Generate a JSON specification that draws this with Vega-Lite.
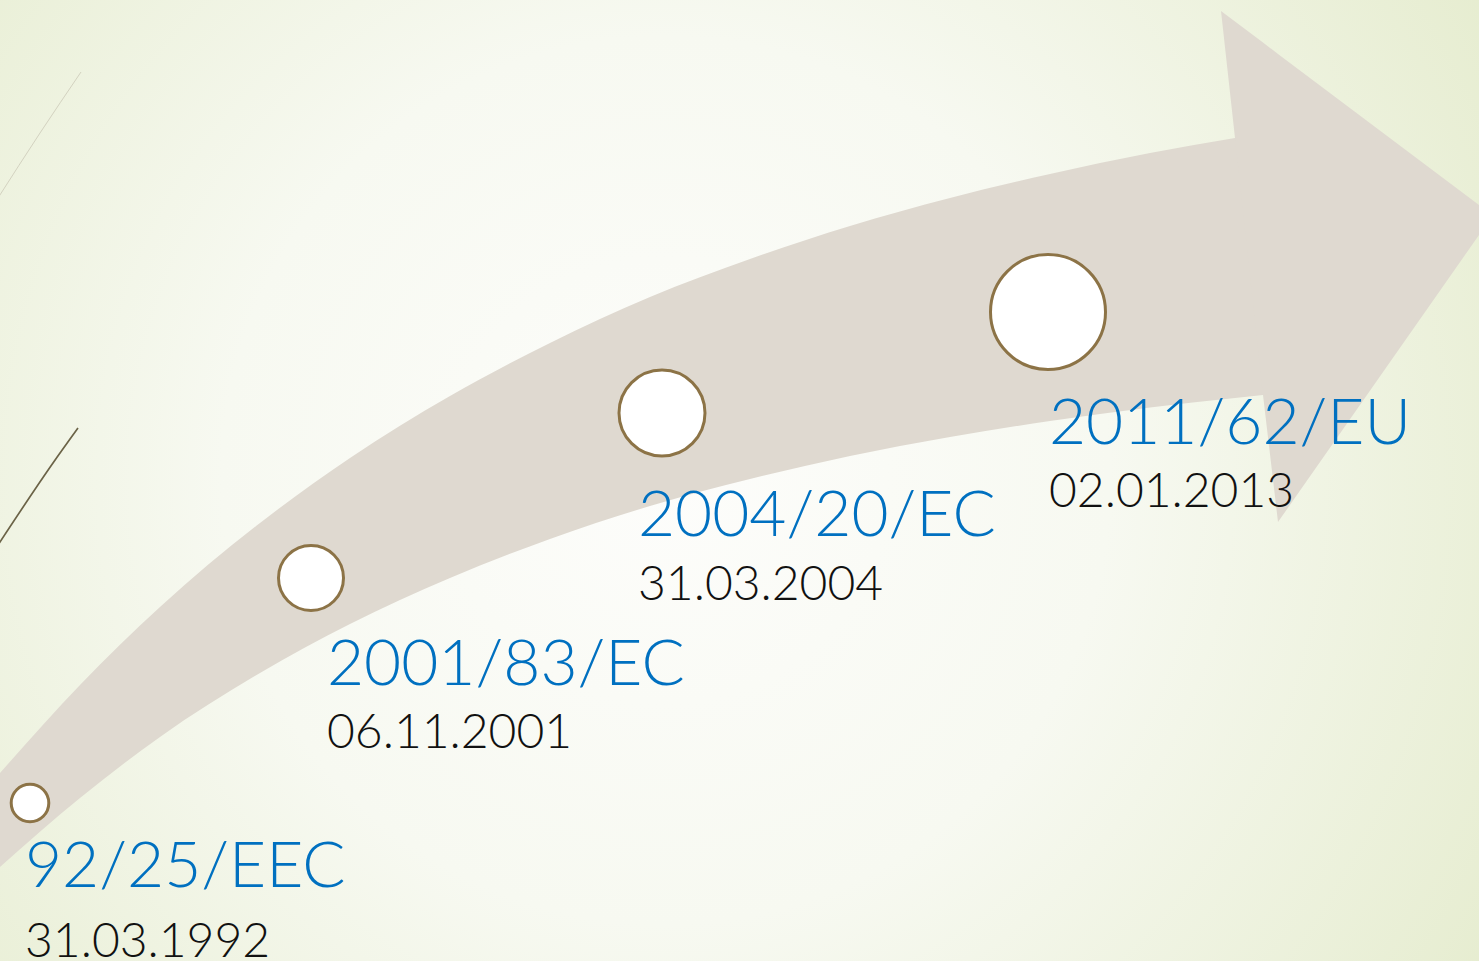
{
  "$schema": "https://vega.github.io/schema/vega-lite/v6.json",
  "width": 1479,
  "height": 961,
  "autosize": {"type": "none"},
  "padding": 0,
  "background": "#eef3e2",
  "config": {"view": {"stroke": null}},
  "datasets": {
    "bg": [{"x0": 0, "x1": 1479, "y0": 0, "y1": 961}],
    "body": [
      {"x": 0, "top": 773, "bottom": 867},
      {"x": 80, "top": 685, "bottom": 798},
      {"x": 160, "top": 607, "bottom": 737},
      {"x": 260, "top": 523, "bottom": 673},
      {"x": 350, "top": 458, "bottom": 624},
      {"x": 450, "top": 396, "bottom": 578},
      {"x": 550, "top": 343, "bottom": 539},
      {"x": 650, "top": 297, "bottom": 506},
      {"x": 750, "top": 259, "bottom": 479},
      {"x": 850, "top": 226, "bottom": 456},
      {"x": 950, "top": 198, "bottom": 437},
      {"x": 1050, "top": 174, "bottom": 421},
      {"x": 1150, "top": 153, "bottom": 407.5},
      {"x": 1235, "top": 138, "bottom": 398},
      {"x": 1263, "top": 133.5, "bottom": 395}
    ],
    "head": [
      {"x": 1221, "top": 11, "bottom": 11},
      {"x": 1235, "top": 21.5, "bottom": 138},
      {"x": 1263, "top": 42.6, "bottom": 395},
      {"x": 1278, "top": 53.9, "bottom": 522},
      {"x": 1479, "top": 205, "bottom": 235}
    ],
    "deco": [
      {"line": "faint", "x": 81, "y": 72},
      {"line": "faint", "x": 40, "y": 133},
      {"line": "faint", "x": -2, "y": 198},
      {"line": "dark", "x": 78, "y": 428},
      {"line": "dark", "x": 53, "y": 463},
      {"line": "dark", "x": -2, "y": 545}
    ],
    "events": [
      {"directive": "92/25/EEC", "date": "31.03.1992", "cx": 30, "cy": 803, "lx": 25, "ly": 887, "dy": 957},
      {"directive": "2001/83/EC", "date": "06.11.2001", "cx": 311, "cy": 578, "lx": 327, "ly": 685, "dy": 748},
      {"directive": "2004/20/EC", "date": "31.03.2004", "cx": 662, "cy": 413, "lx": 638, "ly": 536, "dy": 600},
      {"directive": "2011/62/EU", "date": "02.01.2013", "cx": 1048, "cy": 312, "lx": 1049, "ly": 444, "dy": 507}
    ]
  },
  "layer": [
    {
      "data": {"name": "bg"},
      "mark": {
        "type": "rect",
        "color": {
          "gradient": "radial",
          "x1": 0.45, "y1": 0.5, "r1": 0,
          "x2": 0.45, "y2": 0.5, "r2": 0.75,
          "stops": [
            {"offset": 0, "color": "#fdfdfb"},
            {"offset": 0.4, "color": "#f7f9f1"},
            {"offset": 1, "color": "#e1e9c6"}
          ]
        }
      },
      "encoding": {
        "x": {"field": "x0", "type": "quantitative", "scale": {"domain": [0, 1479], "nice": false, "zero": false}, "axis": null},
        "x2": {"field": "x1"},
        "y": {"field": "y0", "type": "quantitative", "scale": {"domain": [0, 961], "nice": false, "zero": false, "reverse": true}, "axis": null},
        "y2": {"field": "y1"}
      }
    },
    {
      "data": {"name": "deco"},
      "mark": {"type": "line", "interpolate": "monotone", "clip": true},
      "encoding": {
        "x": {"field": "x", "type": "quantitative", "scale": {"domain": [0, 1479], "nice": false, "zero": false}, "axis": null},
        "y": {"field": "y", "type": "quantitative", "scale": {"domain": [0, 961], "nice": false, "zero": false, "reverse": true}, "axis": null},
        "detail": {"field": "line"},
        "color": {"field": "line", "type": "nominal", "scale": {"domain": ["faint", "dark"], "range": ["#d3d2c0", "#6b6347"]}, "legend": null},
        "strokeWidth": {"field": "line", "type": "nominal", "scale": {"type": "ordinal", "domain": ["faint", "dark"], "range": [1, 1.7]}, "legend": null}
      }
    },
    {
      "data": {"name": "body"},
      "mark": {"type": "area", "color": "#dfd9d0", "interpolate": "monotone", "orient": "vertical"},
      "encoding": {
        "x": {"field": "x", "type": "quantitative", "scale": {"domain": [0, 1479], "nice": false, "zero": false}, "axis": null},
        "y": {"field": "top", "type": "quantitative", "stack": null, "scale": {"domain": [0, 961], "nice": false, "zero": false, "reverse": true}, "axis": null},
        "y2": {"field": "bottom"}
      }
    },
    {
      "data": {"name": "head"},
      "mark": {"type": "area", "color": "#dfd9d0", "interpolate": "linear", "orient": "vertical"},
      "encoding": {
        "x": {"field": "x", "type": "quantitative", "scale": {"domain": [0, 1479], "nice": false, "zero": false}, "axis": null},
        "y": {"field": "top", "type": "quantitative", "stack": null, "scale": {"domain": [0, 961], "nice": false, "zero": false, "reverse": true}, "axis": null},
        "y2": {"field": "bottom"}
      }
    },
    {
      "data": {"name": "events"},
      "mark": {"type": "point", "shape": "circle", "filled": true, "fill": "#ffffff", "stroke": "#8c7346", "strokeWidth": 3, "opacity": 1},
      "encoding": {
        "x": {"field": "cx", "type": "quantitative", "scale": {"domain": [0, 1479], "nice": false, "zero": false}, "axis": null},
        "y": {"field": "cy", "type": "quantitative", "scale": {"domain": [0, 961], "nice": false, "zero": false, "reverse": true}, "axis": null},
        "size": {"field": "directive", "type": "nominal", "scale": {"type": "ordinal", "domain": ["92/25/EEC", "2001/83/EC", "2004/20/EC", "2011/62/EU"], "range": [1414, 4225, 7396, 13225]}, "legend": null}
      }
    },
    {
      "data": {"name": "events"},
      "mark": {"type": "text", "align": "left", "baseline": "alphabetic", "font": "Lato", "fontWeight": 300, "fontSize": 64, "color": "#0070c0"},
      "encoding": {
        "x": {"field": "lx", "type": "quantitative", "scale": {"domain": [0, 1479], "nice": false, "zero": false}, "axis": null},
        "y": {"field": "ly", "type": "quantitative", "scale": {"domain": [0, 961], "nice": false, "zero": false, "reverse": true}, "axis": null},
        "text": {"field": "directive"}
      }
    },
    {
      "data": {"name": "events"},
      "mark": {"type": "text", "align": "left", "baseline": "alphabetic", "font": "Lato", "fontWeight": 300, "fontSize": 48, "color": "#111111"},
      "encoding": {
        "x": {"field": "lx", "type": "quantitative", "scale": {"domain": [0, 1479], "nice": false, "zero": false}, "axis": null},
        "y": {"field": "dy", "type": "quantitative", "scale": {"domain": [0, 961], "nice": false, "zero": false, "reverse": true}, "axis": null},
        "text": {"field": "date"}
      }
    }
  ]
}
